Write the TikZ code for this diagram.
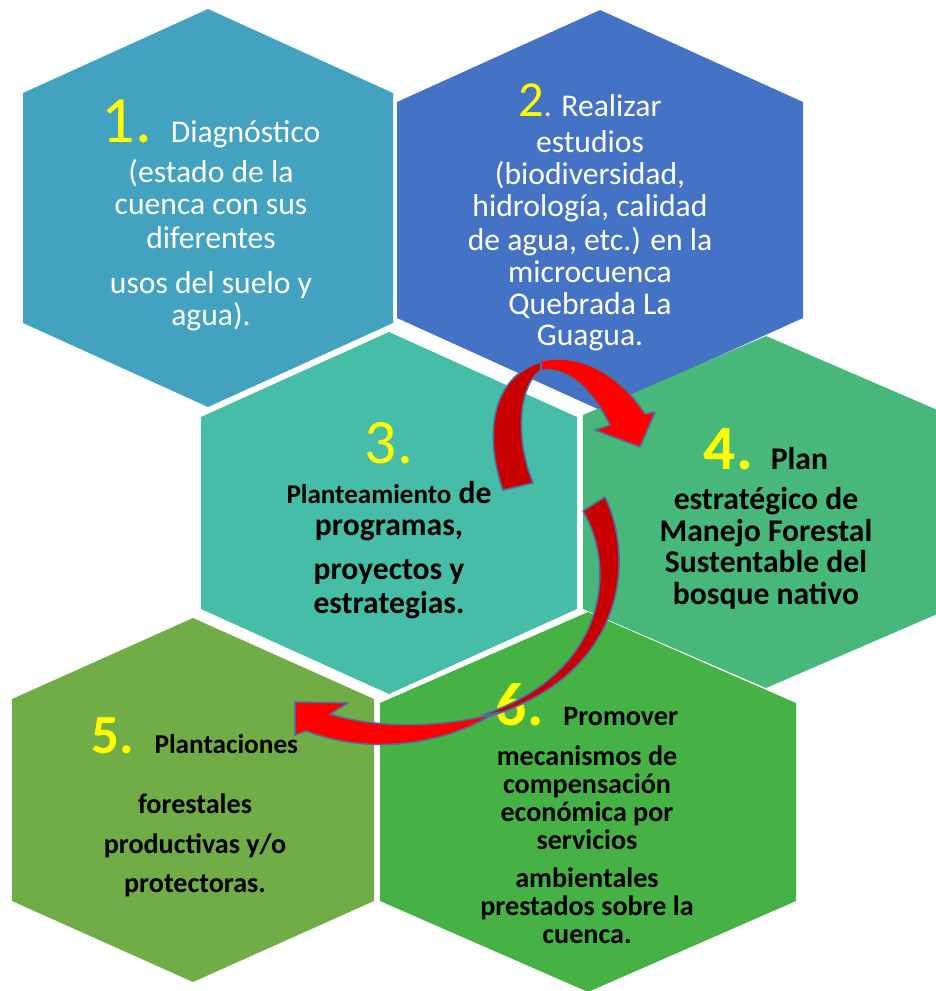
\documentclass[tikz,border=0pt]{standalone}
\usepackage{fontspec}
\setmainfont{Carlito}

\definecolor{hexone}{RGB}{68,162,193}
\definecolor{hextwo}{RGB}{68,114,196}
\definecolor{hexthree}{RGB}{69,189,167}
\definecolor{hexfour}{RGB}{71,184,122}
\definecolor{hexfive}{RGB}{112,173,71}
\definecolor{hexsix}{RGB}{70,178,70}
\definecolor{numyellow}{RGB}{255,255,0}
\definecolor{arrowred}{RGB}{255,0,0}
\definecolor{arrowdark}{RGB}{200,0,0}
\definecolor{arrowline}{RGB}{79,109,160}

% name, cx, cy, half width, half height, half side, colour
\newcommand\hexa[7]{%
  \fill[#7] ({#2},{#3-#5}) -- ({#2+#4},{#3-#6}) -- ({#2+#4},{#3+#6})
    -- ({#2},{#3+#5}) -- ({#2-#4},{#3+#6}) -- ({#2-#4},{#3-#6}) -- cycle;
  \coordinate (#1) at (#2,#3);}
\newcommand\bignr[2]{{\fontsize{#1}{#1}\selectfont\color{numyellow}#2}}

\begin{document}
\begin{tikzpicture}[x=0.02cm, y=-0.02cm,
    wtxt/.style={align=center, anchor=north, inner sep=0pt, text=white, font=\fontsize{18}{18.1}\selectfont},
    btxt/.style={align=center, anchor=north, inner sep=0pt, text=black, font=\bfseries\fontsize{18}{18.1}\selectfont},
    band/.style={draw=arrowline, line width=0.9pt, line join=round}
]
\useasboundingbox (0,0) rectangle (936,991);

\hexa{h1}{208}{208}{185}{199}{115}{hexone}
\hexa{h2}{600}{210}{203}{200}{108}{hextwo}
\hexa{h3}{389}{513}{188}{181}{96}{hexthree}
\hexa{h4}{766}{512}{183}{176}{97}{hexfour}
\hexa{h5}{193}{800}{181}{182}{101}{hexfive}
\hexa{h6}{588}{802}{208}{190}{99}{hexsix}

\node[wtxt] (t1) at (211,100) {\bignr{37.7}{1.}\hspace{10.8pt}Diagnóstico\\[4.6pt]
  (estado de la\\ cuenca con sus\\[1.2pt] diferentes\\[7.4pt] usos del suelo y\\ agua).};
\node[wtxt] (t2) at (590,83) {\bignr{28.7}{2}. Realizar\\[2.9pt] estudios\\ (biodiversidad,\\
  hidrología, calidad\\[1.2pt] de agua, etc.) en la\\ microcuenca\\ Quebrada La\\ Guagua.};
\node[btxt] (t3) at (389,422) {\bignr{36}{\mdseries 3.}\\[4.6pt]
  {\fontsize{15.4}{18}\selectfont Planteamiento} de\\ programas,\\[7.4pt] proyectos y\\[1.2pt] estrategias.};
\node[btxt] (t4) at (766,428) {\bignr{36}{4.}\hspace{10.2pt}Plan\\[4.6pt]
  estratégico de\\ Manejo Forestal\\ Sustentable del\\ bosque nativo};
\node[btxt, font=\bfseries\fontsize{16}{22.4}\selectfont] (t5) at (195,717)
  {\bignr{31.4}{5.}\hspace{11.3pt}{\fontsize{15.5}{16}\selectfont Plantaciones}\\[12.2pt]
  forestales\\ productivas y/o\\ protectoras.};
\node[btxt, font=\bfseries\fontsize{16}{16}\selectfont] (t6) at (587,683)
  {\bignr{35}{6.}\hspace{11.3pt}Promover\\[6.7pt] mecanismos de\\ compensación\\ económica por\\
  servicios\\[5.5pt] ambientales\\ prestados sobre la\\ cuenca.};

\fill[arrowdark, band] (503,490) .. controls (485,440) and (488,375) .. (545,361)
  -- (541,370) .. controls (518,385) and (515,440) .. (533,483) -- cycle;
\fill[arrowred, band] (541,361) .. controls (580,352) and (620,375) .. (645,414)
  -- (655,412) -- (640,447) -- (595,430) -- (610,425)
  .. controls (590,385) and (565,367) .. (541,370) -- cycle;

\fill[arrowdark, band] (583,511) -- (605,497) .. controls (635,560) and (625,670) .. (497,714)
  -- (482,715) .. controls (605,675) and (618,570) .. (583,511) -- cycle;
\fill[arrowred, band] (500,712) .. controls (450,727) and (380,730) .. (330,714)
  -- (348,703) -- (295,702) -- (295,735) -- (306,731)
  .. controls (370,755) and (440,745) .. (490,716) -- cycle;
\end{tikzpicture}
\end{document}
